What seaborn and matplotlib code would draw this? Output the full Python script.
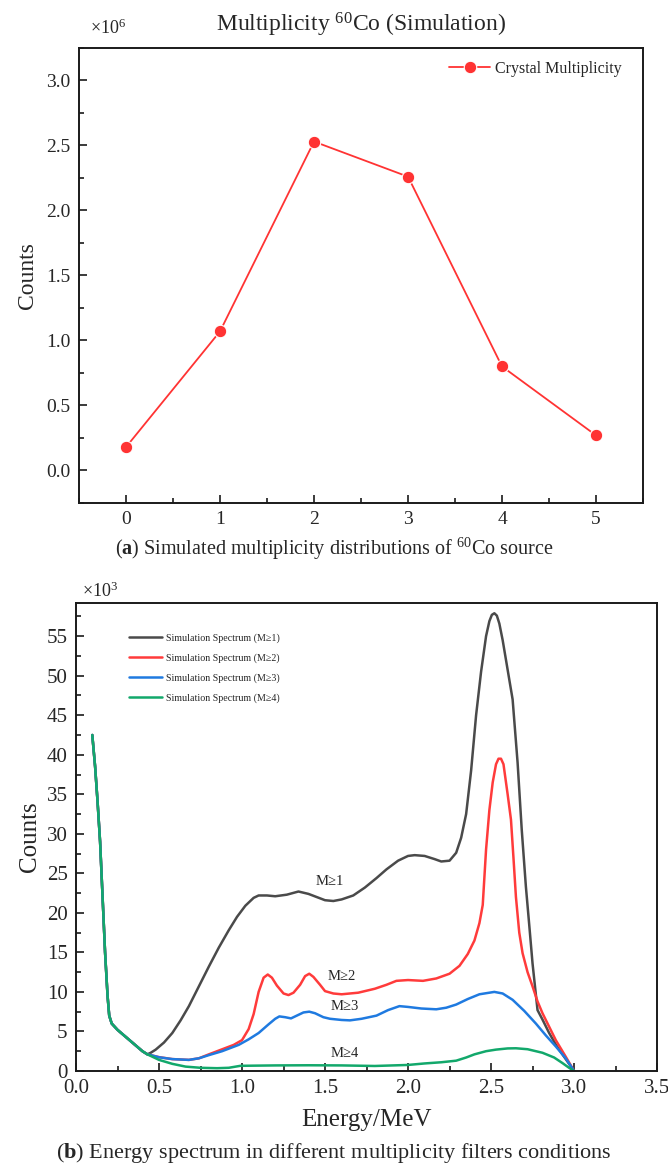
import numpy as np
import pandas as pd
import matplotlib
matplotlib.use("Agg")
import matplotlib.pyplot as plt
from matplotlib.ticker import MultipleLocator, FormatStrFormatter
import seaborn as sns

# ---------------- data ----------------
mult_x = [0, 1, 2, 3, 4, 5]
mult_counts_e6 = [0.18, 1.07, 2.53, 2.26, 0.80, 0.27]

# shared low-energy part (all four spectra coincide), counts in 10^3
shared_e = [0.098, 0.115, 0.13, 0.145, 0.16, 0.175, 0.19, 0.20, 0.215, 0.25, 0.30, 0.35, 0.40, 0.43]
shared_c = [42.5, 38.5, 34.0, 29.0, 22.0, 15.0, 9.5, 7.0, 6.0, 5.2, 4.3, 3.4, 2.5, 2.1]

m1_e = [0.45, 0.48, 0.53, 0.58, 0.63, 0.68, 0.74, 0.80, 0.86, 0.92, 0.97, 1.02, 1.07, 1.10,
        1.15, 1.20, 1.27, 1.34, 1.40, 1.45, 1.50, 1.55, 1.60, 1.67, 1.74, 1.81, 1.87, 1.94,
        2.00, 2.04, 2.10, 2.16, 2.20, 2.25, 2.29, 2.32, 2.35, 2.38, 2.41, 2.44, 2.47, 2.49,
        2.505, 2.52, 2.535, 2.55, 2.57, 2.59, 2.63, 2.66, 2.685, 2.71, 2.73, 2.75, 2.78,
        2.81, 2.85, 2.90, 2.95, 3.00]
m1_c = [2.3, 2.7, 3.6, 4.8, 6.4, 8.2, 10.7, 13.2, 15.6, 17.8, 19.5, 20.9, 21.9, 22.2,
        22.2, 22.1, 22.3, 22.7, 22.4, 22.0, 21.6, 21.5, 21.7, 22.2, 23.2, 24.4, 25.5, 26.6,
        27.2, 27.3, 27.2, 26.8, 26.5, 26.6, 27.6, 29.5, 32.5, 38.0, 45.0, 50.5, 55.0, 56.9,
        57.7, 57.9, 57.6, 56.6, 54.5, 52.0, 47.0, 39.0, 30.5, 23.3, 18.5, 13.6, 7.7,
        6.5, 4.8, 3.0, 1.5, 0.0]

m2_e = [0.45, 0.50, 0.58, 0.68, 0.74, 0.80, 0.85, 0.90, 0.95, 1.00, 1.04, 1.07, 1.10, 1.13,
        1.155, 1.18, 1.21, 1.25, 1.28, 1.31, 1.35, 1.38, 1.405, 1.43, 1.47, 1.50, 1.55, 1.60,
        1.70, 1.80, 1.87, 1.93, 2.00, 2.09, 2.17, 2.25, 2.31, 2.36, 2.40, 2.43, 2.45, 2.47,
        2.49, 2.51, 2.53, 2.545, 2.56, 2.575, 2.60, 2.62, 2.635, 2.65, 2.67, 2.69, 2.72, 2.75,
        2.78, 2.81, 2.85, 2.89, 2.95, 3.00]
m2_c = [2.0, 1.75, 1.5, 1.4, 1.6, 2.1, 2.5, 2.9, 3.3, 3.9, 5.3, 7.2, 10.0, 11.8,
        12.2, 11.8, 10.8, 9.8, 9.6, 9.9, 10.9, 12.0, 12.3, 11.9, 10.9, 10.1, 9.8, 9.7,
        9.9, 10.4, 10.9, 11.4, 11.5, 11.4, 11.7, 12.3, 13.3, 14.8, 16.5, 18.7, 21.0, 28.0,
        33.0, 36.5, 38.8, 39.5, 39.5, 38.8, 35.0, 31.8, 27.0, 22.0, 17.5, 14.9, 12.5, 10.7,
        8.8, 7.3, 5.6, 3.9, 1.8, 0.0]

m3_e = [0.45, 0.50, 0.58, 0.68, 0.74, 0.80, 0.88, 0.98, 1.04, 1.10, 1.16, 1.20, 1.225,
        1.26, 1.295, 1.33, 1.37, 1.405, 1.44, 1.49, 1.53, 1.60, 1.65, 1.72, 1.81, 1.88,
        1.948, 2.00, 2.08, 2.17, 2.23, 2.29, 2.36, 2.43, 2.52, 2.57, 2.63, 2.70, 2.77,
        2.83, 2.89, 2.95, 3.00]
m3_c = [2.0, 1.73, 1.5, 1.4, 1.6, 2.0, 2.5, 3.3, 4.0, 4.8, 5.9, 6.6, 6.9,
        6.8, 6.65, 7.0, 7.4, 7.5, 7.3, 6.8, 6.6, 6.45, 6.4, 6.6, 7.0, 7.7,
        8.2, 8.1, 7.9, 7.8, 8.0, 8.4, 9.1, 9.7, 10.0, 9.8, 9.0, 7.6, 6.0,
        4.5, 3.1, 1.6, 0.0]

m4_e = [0.45, 0.50, 0.58, 0.66, 0.75, 0.85, 0.92, 0.99, 1.20, 1.40, 1.60, 1.80, 2.00,
        2.10, 2.20, 2.29, 2.35, 2.40, 2.47, 2.53, 2.60, 2.65, 2.72, 2.81, 2.88, 2.93,
        2.97, 3.00]
m4_c = [1.9, 1.4, 0.9, 0.55, 0.4, 0.35, 0.4, 0.65, 0.7, 0.72, 0.7, 0.63, 0.76,
        0.95, 1.1, 1.3, 1.7, 2.1, 2.5, 2.7, 2.85, 2.87, 2.75, 2.3, 1.7, 1.0,
        0.4, 0.0]

series_names = ["Simulation Spectrum (M\u22651)", "Simulation Spectrum (M\u22652)",
                "Simulation Spectrum (M\u22653)", "Simulation Spectrum (M\u22654)"]
series_colors = ["#4a4a4a", "#ff3b3b", "#1f7ae0", "#12a86b"]
curve_labels = ["M\u22651", "M\u22652", "M\u22653", "M\u22654"]
curve_label_pos = [(1.53, 24.0), (1.60, 11.9), (1.62, 8.1), (1.62, 2.2)]

# ---------------- style ----------------
sns.set_theme(style="ticks")
plt.rcParams["font.family"] = ["Liberation Serif", "DejaVu Serif"]
plt.rcParams["mathtext.fontset"] = "custom"
plt.rcParams["mathtext.rm"] = "Liberation Serif"
plt.rcParams["mathtext.it"] = "Liberation Serif:italic"
plt.rcParams["mathtext.bf"] = "Liberation Serif:bold"
plt.rcParams["axes.linewidth"] = 1.4
plt.rcParams["axes.edgecolor"] = "#1a1a1a"

fig = plt.figure(figsize=(6.68, 11.67), dpi=100)

def style_axes(ax, labelsize):
    for s in ax.spines.values():
        s.set_visible(True)
        s.set_linewidth(1.4)
        s.set_color("#1a1a1a")
    ax.tick_params(which="both", direction="in", top=False, right=False,
                   color="#1a1a1a", width=1.2, labelsize=labelsize, pad=6)
    ax.tick_params(which="major", length=6)
    ax.tick_params(which="minor", length=3.5)

# ---------------- panel a ----------------
ax1 = fig.add_axes([0.1183, 0.569, 0.8443, 0.3899])
dfa = pd.DataFrame({"m": mult_x, "c": mult_counts_e6})
sns.lineplot(data=dfa, x="m", y="c", ax=ax1, color="#ff3333", linewidth=1.3,
             marker="o", markersize=9, markeredgecolor="white", markeredgewidth=0.8,
             label="Crystal Multiplicity")
ax1.set_xlim(-0.5, 5.5)
ax1.set_ylim(-0.25, 3.25)
ax1.xaxis.set_major_locator(MultipleLocator(1))
ax1.xaxis.set_minor_locator(MultipleLocator(0.5))
ax1.yaxis.set_major_locator(MultipleLocator(0.5))
ax1.yaxis.set_minor_locator(MultipleLocator(0.25))
ax1.yaxis.set_major_formatter(FormatStrFormatter("%.1f"))
style_axes(ax1, 14)
ax1.set_xlabel("")
ax1.set_ylabel("Counts", fontsize=17, labelpad=6)
leg1 = ax1.legend(loc="upper right", frameon=False, fontsize=11.5, handlelength=2.6,
                  handletextpad=0.3, borderaxespad=0.4, bbox_to_anchor=(0.985, 1.0))
ax1.set_title("Multiplicity $^{60}$Co (Simulation)", fontsize=17, pad=12)
ax1.text(0.02, 1.044, r"$\times$10$^{6}$", transform=ax1.transAxes, fontsize=13,
         ha="left", va="center")
fig.text(0.5, 1 - 549 / 1167,
         r"($\mathbf{a}$) Simulated multiplicity distributions of $^{60}$Co source",
         ha="center", va="center", fontsize=14.5)

# ---------------- panel b ----------------
ax2 = fig.add_axes([0.1138, 0.0823, 0.8698, 0.401])
tails = [(m1_e, m1_c), (m2_e, m2_c), (m3_e, m3_c), (m4_e, m4_c)]
frames = []
for name, (te, tc) in zip(series_names, tails):
    frames.append(pd.DataFrame({"E": shared_e + te, "C": shared_c + tc, "series": name}))
dfb = pd.concat(frames, ignore_index=True)
sns.lineplot(data=dfb, x="E", y="C", hue="series", hue_order=series_names,
             palette=series_colors, ax=ax2, linewidth=1.8, estimator=None, sort=False)
ax2.set_xlim(0, 3.5)
ax2.set_ylim(0, 59.2)
ax2.xaxis.set_major_locator(MultipleLocator(0.5))
ax2.xaxis.set_minor_locator(MultipleLocator(0.25))
ax2.yaxis.set_major_locator(MultipleLocator(5))
ax2.yaxis.set_minor_locator(MultipleLocator(2.5))
ax2.xaxis.set_major_formatter(FormatStrFormatter("%.1f"))
style_axes(ax2, 15)
ax2.set_xlabel("Energy/MeV", fontsize=18, labelpad=8)
ax2.set_ylabel("Counts", fontsize=18, labelpad=4)
leg2 = ax2.legend(loc="upper left", frameon=False, fontsize=7.2, handlelength=3.3,
                  handletextpad=0.45, bbox_to_anchor=(0.075, 0.955), labelspacing=1.05)
for lbl, (x, y) in zip(curve_labels, curve_label_pos):
    ax2.text(x, y, lbl, fontsize=10.5, ha="center", va="center")
ax2.text(0.01, 1.005, r"$\times$10$^{3}$", transform=ax2.transAxes, fontsize=13,
         ha="left", va="bottom")
fig.text(0.5, 1 - 1153 / 1167,
         r"($\mathbf{b}$) Energy spectrum in different multiplicity filters conditions",
         ha="center", va="center", fontsize=16)

fig.savefig("out.png", dpi=100)
